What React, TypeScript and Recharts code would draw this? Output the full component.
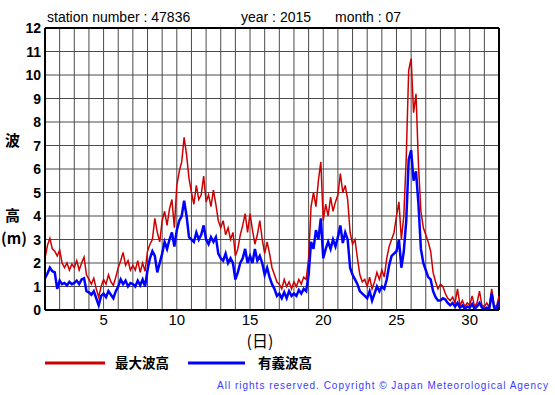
import React from 'react';
import {
  LineChart,
  Line,
  XAxis,
  YAxis,
  CartesianGrid,
  ReferenceLine,
} from 'recharts';

// station 47836, July 2015 — one value every 4 hours (6 per day), day 1 00h .. day 32 00h
const maxWave = [
  2.2, 2.75, 3.05, 2.6, 2.5, 2.3, // 1
  2.55, 2.0, 1.8, 2.0, 1.7, 1.95, // 2
  1.8, 2.1, 1.7, 2.0, 2.25, 1.5, // 3
  1.3, 1.1, 1.35, 0.9, 0.55, 1.0, // 4
  1.3, 1.1, 1.5, 1.2, 1.05, 1.4, // 5
  1.8, 2.1, 2.45, 1.9, 2.1, 1.7, // 6
  1.9, 1.7, 2.1, 1.6, 2.0, 1.65, // 7
  2.5, 2.8, 3.0, 3.9, 3.3, 2.9, // 8
  3.8, 4.2, 3.6, 4.3, 4.7, 3.5, // 9
  5.3, 5.9, 6.3, 7.35, 6.6, 5.6, // 10
  5.0, 4.5, 5.3, 4.7, 4.9, 5.7, // 11
  4.6, 4.9, 4.4, 5.1, 4.5, 3.8, // 12
  3.5, 3.8, 3.2, 3.5, 3.0, 3.3, // 13
  2.3, 2.6, 3.2, 3.6, 4.1, 3.3, // 14
  4.1, 3.4, 2.8, 3.2, 3.8, 3.0, // 15
  2.4, 2.9, 2.4, 1.8, 1.5, 1.2, // 16
  1.1, 0.9, 1.3, 1.0, 1.2, 0.9, // 17
  1.2, 1.0, 1.3, 1.1, 1.4, 1.3, // 18
  2.2, 4.4, 5.0, 4.4, 5.5, 6.3, // 19
  3.8, 4.5, 4.0, 4.8, 4.2, 4.6, // 20
  4.9, 5.8, 5.0, 5.3, 4.7, 3.3, // 21
  2.8, 3.0, 2.2, 1.5, 1.2, 1.3, // 22
  1.0, 1.4, 0.9, 1.2, 1.6, 1.3, // 23
  1.7, 1.4, 2.2, 2.7, 3.0, 3.3, // 24
  4.0, 4.6, 3.0, 4.0, 6.5, 10.2, // 25
  10.7, 8.4, 9.2, 6.2, 4.2, 3.5, // 26
  3.2, 2.9, 2.5, 1.6, 1.2, 0.9, // 27
  1.1, 1.0, 0.7, 0.5, 0.4, 0.55, // 28
  0.3, 0.9, 0.2, 0.4, 0.15, 0.3, // 29
  0.2, 0.6, 0.15, 0.3, 0.8, 0.2, // 30
  0.15, 0.3, 0.1, 0.9, 0.2, 0.15, // 31
  0.6, // 32
];

const sigWave = [
  1.35, 1.55, 1.8, 1.65, 1.6, 0.9, // 1
  1.25, 1.1, 1.15, 1.05, 1.2, 1.1, // 2
  1.15, 1.25, 1.1, 1.3, 1.35, 0.8, // 3
  0.75, 0.65, 0.8, 0.5, 0.2, 0.6, // 4
  0.7, 0.55, 0.8, 0.65, 0.5, 0.8, // 5
  1.0, 1.3, 1.1, 1.25, 1.0, 1.15, // 6
  1.1, 1.0, 1.25, 1.05, 1.3, 1.0, // 7
  1.7, 2.2, 2.5, 2.3, 1.6, 2.0, // 8
  2.4, 2.9, 2.6, 3.0, 3.3, 2.7, // 9
  3.4, 3.8, 4.0, 4.65, 4.0, 3.1, // 10
  3.0, 2.9, 3.3, 3.0, 3.2, 3.6, // 11
  3.0, 2.8, 3.1, 2.9, 3.1, 2.4, // 12
  2.2, 2.1, 2.4, 2.0, 2.2, 2.0, // 13
  1.3, 1.6, 2.0, 2.2, 2.6, 2.0, // 14
  2.3, 2.0, 2.6, 2.1, 2.3, 2.0, // 15
  1.5, 1.8, 1.4, 1.1, 0.9, 0.6, // 16
  0.7, 0.5, 0.75, 0.5, 0.8, 0.6, // 17
  0.7, 0.6, 0.85, 0.7, 0.9, 0.8, // 18
  1.5, 2.9, 2.6, 3.4, 3.0, 3.9, // 19
  2.2, 2.6, 2.9, 2.6, 3.0, 2.7, // 20
  3.1, 3.6, 2.85, 3.3, 3.0, 1.8, // 21
  1.5, 1.3, 1.1, 0.8, 0.7, 0.6, // 22
  0.5, 0.8, 0.4, 0.7, 1.0, 0.8, // 23
  1.0, 0.9, 1.3, 1.9, 2.3, 2.4, // 24
  2.5, 3.0, 1.8, 2.5, 3.8, 6.4, // 25
  6.8, 5.5, 5.9, 4.5, 2.6, 2.0, // 26
  1.7, 1.4, 1.3, 0.8, 0.55, 0.4, // 27
  0.4, 0.5, 0.45, 0.3, 0.2, 0.3, // 28
  0.15, 0.3, 0.1, 0.2, 0.05, 0.15, // 29
  0.1, 0.25, 0.05, 0.15, 0.3, 0.1, // 30
  0.05, 0.1, 0.05, 0.7, 0.1, 0.05, // 31
  0.35, // 32
];

const dayTicks = [
  1, 2, 3, 4, 5, 6, 7, 8, 9, 10, 11, 12, 13, 14, 15, 16,
  17, 18, 19, 20, 21, 22, 23, 24, 25, 26, 27, 28, 29, 30, 31, 32,
];
const heightTicks = [0, 1, 2, 3, 4, 5, 6, 7, 8, 9, 10, 11, 12];

const data = maxWave.map((v, i) => ({
  day: 1 + i / 6,
  max: v,
  sig: sigWave[i],
}));

const latin = '"Liberation Sans", Arial, sans-serif';
const cjk = '"Noto Sans CJK JP", sans-serif';

const YTick = ({ y, payload }: any) => (
  <text x={41} y={y} dy={5} textAnchor="end" fontSize={14} fontWeight="bold" fontFamily={latin} fill="#000">
    {payload.value}
  </text>
);

const XTick = ({ x, payload }: any) =>
  payload.value % 5 === 0 ? (
    <text x={x} y={325} textAnchor="middle" fontSize={15} fontFamily={latin} fill="#000">
      {payload.value}
    </text>
  ) : null;

export default function App() {
  return (
    <div style={{ position: 'absolute', left: 0, top: 0, width: 555, height: 395, background: '#fff' }}>
      <LineChart width={555} height={395} data={data} margin={{ top: 28, right: 56, left: 0, bottom: 0 }}>
        <CartesianGrid stroke="#4a4a4a" strokeWidth={1} />
        <XAxis
          type="number"
          dataKey="day"
          domain={[1, 32]}
          ticks={dayTicks}
          interval={0}
          tick={<XTick />}
          tickLine={false}
          axisLine={{ stroke: '#000', strokeWidth: 2 }}
          height={85}
        />
        <YAxis
          domain={[0, 12]}
          ticks={heightTicks}
          interval={0}
          tick={<YTick />}
          tickLine={false}
          axisLine={{ stroke: '#000', strokeWidth: 2 }}
          width={45}
        />
        <ReferenceLine y={12} stroke="#000" strokeWidth={2} />
        <ReferenceLine x={32} stroke="#000" strokeWidth={2} />
        <Line type="linear" dataKey="max" stroke="#cc0000" strokeWidth={1.5} dot={false} isAnimationActive={false} />
        <Line type="linear" dataKey="sig" stroke="#0000ff" strokeWidth={2.5} dot={false} isAnimationActive={false} />
      </LineChart>
      <svg width={555} height={395} style={{ position: 'absolute', left: 0, top: 0, pointerEvents: 'none' }}>
        <g fontFamily={latin} fontSize={14} fill="#000">
          <text x={47} y={22}>station number : 47836</text>
          <text x={241} y={22}>year : 2015</text>
          <text x={335} y={22}>month : 07</text>
        </g>
        <g fontFamily={cjk} fontSize={15} fontWeight="bold" fill="#000">
          <text x={5} y={146}>波</text>
          <text x={5} y={221}>高</text>
          <text x={1} y={244}>(m)</text>
          <text x={260} y={347} textAnchor="middle" fontSize={16} fontWeight="normal">(日)</text>
        </g>
        <line x1={45} y1={363} x2={105} y2={363} stroke="#cc0000" strokeWidth={3} />
        <text x={115} y={368} fontFamily={cjk} fontSize={13.5} fontWeight="bold">最大波高</text>
        <line x1={188} y1={363} x2={245} y2={363} stroke="#0000ff" strokeWidth={3} />
        <text x={258} y={368} fontFamily={cjk} fontSize={13.5} fontWeight="bold">有義波高</text>
        <text x={549} y={389} textAnchor="end" fontFamily={latin} fontSize={10} letterSpacing={1} fill="#3a3aff">
          All rights reserved. Copyright © Japan Meteorological Agency
        </text>
      </svg>
    </div>
  );
}
